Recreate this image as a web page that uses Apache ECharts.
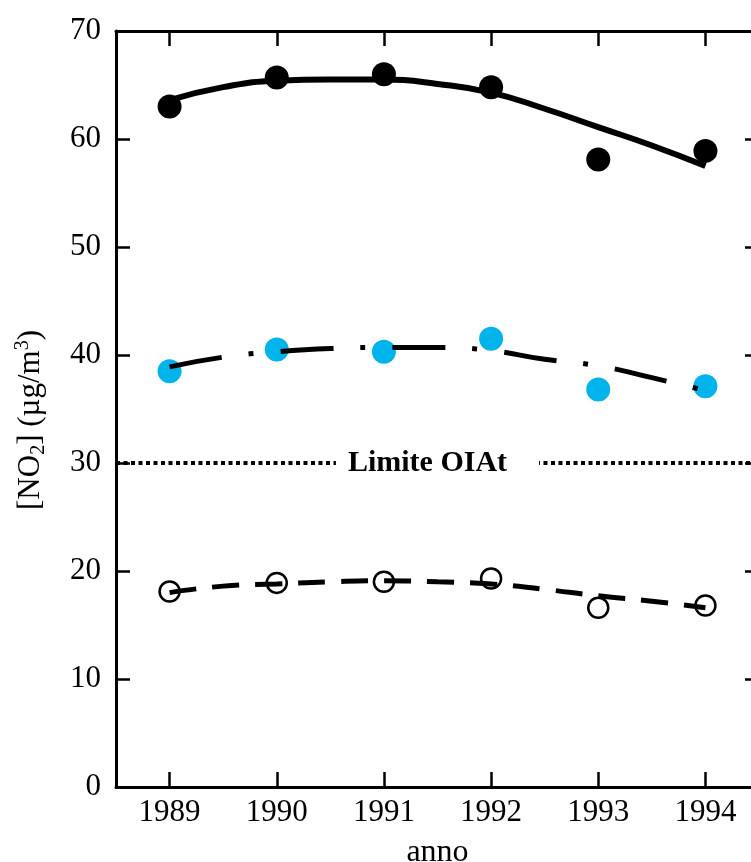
<!DOCTYPE html>
<html>
<head>
<meta charset="utf-8">
<script src="https://cdn.jsdelivr.net/npm/echarts@6/dist/echarts.min.js"></script>
<style>html,body{margin:0;padding:0;background:#fff;}#c{width:751px;height:862px;}</style>
</head>
<body>
<div id="c"></div>
<script>
// ---- data ----
const years = [1989, 1990, 1991, 1992, 1993, 1994];
const yTicks = [0, 10, 20, 30, 40, 50, 60, 70];
// measured points
const highPts = [63.0, 65.7, 66.0, 64.8, 58.1, 58.9];
const midPts = [38.5, 40.5, 40.3, 41.5, 36.8, 37.1];
const lowPts = [18.1, 18.9, 19.0, 19.3, 16.6, 16.8];
// fitted curves read at half-year steps
const curveX = [1989, 1989.5, 1990, 1990.5, 1991, 1991.5, 1992, 1992.5, 1993, 1993.5, 1994];
const highCurve = [63.6, 64.8, 65.4, 65.5, 65.5, 65.1, 64.3, 62.8, 61.1, 59.4, 57.5];
const midCurve = [38.9, 39.8, 40.3, 40.6, 40.7, 40.7, 40.4, 39.6, 39.0, 37.9, 36.7];
const lowCurve = [18.0, 18.6, 18.8, 19.0, 19.1, 19.0, 18.8, 18.3, 17.7, 17.2, 16.6];
const limitValue = 30;
const limitLabel = 'Limite OIAt';

const FONT = '"Liberation Serif", "DejaVu Serif", serif';
const pair = (xs, ys) => xs.map((x, i) => [x, ys[i]]);

const chart = echarts.init(document.getElementById('c'), null, {renderer: 'canvas'});

const baseX = {
  type: 'value', min: 1988.5, max: 1994.5,
  splitLine: {show: false},
  axisLine: {show: true, onZero: false, lineStyle: {color: '#000', width: 3}},
  axisTick: {show: true, inside: true, length: 15, lineStyle: {color: '#000', width: 2.5}, customValues: years},
};
const baseY = {
  type: 'value', min: 0, max: 70, interval: 10,
  splitLine: {show: false},
  axisLine: {show: true, onZero: false, lineStyle: {color: '#000', width: 3}},
  axisTick: {show: true, inside: true, length: 14, lineStyle: {color: '#000', width: 2.5}},
};

chart.setOption({
  animation: false,
  backgroundColor: '#fff',
  grid: {left: 116, top: 31, right: -8, bottom: 75, outerBoundsMode: 'none', containLabel: false},
  xAxis: [
    Object.assign({}, baseX, {
      position: 'bottom',
      axisLabel: {show: true, customValues: years, color: '#000', fontFamily: FONT, fontSize: 31, margin: 10, formatter: v => String(v)},
      name: 'anno', nameLocation: 'middle', nameGap: 50,
      nameTextStyle: {color: '#000', fontFamily: FONT, fontSize: 32}
    }),
    Object.assign({}, baseX, {position: 'top', axisLabel: {show: false}})
  ],
  yAxis: [
    Object.assign({}, baseY, {
      position: 'left',
      axisLabel: {color: '#000', fontFamily: FONT, fontSize: 31, margin: 15}
    }),
    Object.assign({}, baseY, {position: 'right', axisLabel: {show: false}})
  ],
  graphic: [{
    type: 'text', x: 31, y: 420, rotation: Math.PI / 2,
    style: {
      text: '[NO{sub|2}] (µg/m{sup|3})',
      fill: '#000', font: '31px ' + FONT, align: 'center', verticalAlign: 'middle',
      rich: {
        sub: {fontSize: 20, fontFamily: FONT, verticalAlign: 'bottom', lineHeight: 36, padding: [12, 0, 0, 0]},
        sup: {fontSize: 20, fontFamily: FONT, verticalAlign: 'top', lineHeight: 36, padding: [0, 0, 12, 0]}
      }
    }
  }],
  series: [
    {
      type: 'scatter', data: pair(years, highPts), symbol: 'circle', symbolSize: 24,
      itemStyle: {color: '#000', opacity: 1}, z: 2
    },
    {
      type: 'scatter', data: pair(years, midPts), symbol: 'circle', symbolSize: 24,
      itemStyle: {color: '#00b3ea', opacity: 1}, z: 2
    },
    {
      type: 'scatter', data: pair(years, lowPts), symbol: 'circle', symbolSize: 20,
      itemStyle: {color: 'rgba(255,255,255,0)', borderColor: '#000', borderWidth: 2.5, opacity: 1}, z: 2
    },
    {
      type: 'line', data: pair(curveX, highCurve), smooth: true, showSymbol: false, symbol: 'none',
      lineStyle: {color: '#000', width: 6, cap: 'butt'}, z: 3
    },
    {
      type: 'line', data: pair(curveX, midCurve), smooth: true, showSymbol: false, symbol: 'none',
      lineStyle: {color: '#000', width: 5, type: [53, 27, 5, 27], cap: 'butt'}, z: 3
    },
    {
      type: 'line', data: pair(curveX, lowCurve), smooth: true, showSymbol: false, symbol: 'none',
      lineStyle: {color: '#000', width: 5, type: [27, 16], cap: 'butt'}, z: 3,
      markLine: {
        silent: true, symbol: ['none', 'none'],
        lineStyle: {color: '#000', width: 4, type: [4, 3.5]},
        label: {
          show: true, position: 'insideMiddle', formatter: limitLabel,
          color: '#000', fontFamily: FONT, fontWeight: 'bold', fontSize: 30,
          backgroundColor: '#fff', padding: [2, 32, 2, 12]
        },
        data: [[{coord: [1988.5, limitValue]}, {coord: [1994.5, limitValue]}]]
      }
    }
  ]
});
</script>
</body>
</html>
